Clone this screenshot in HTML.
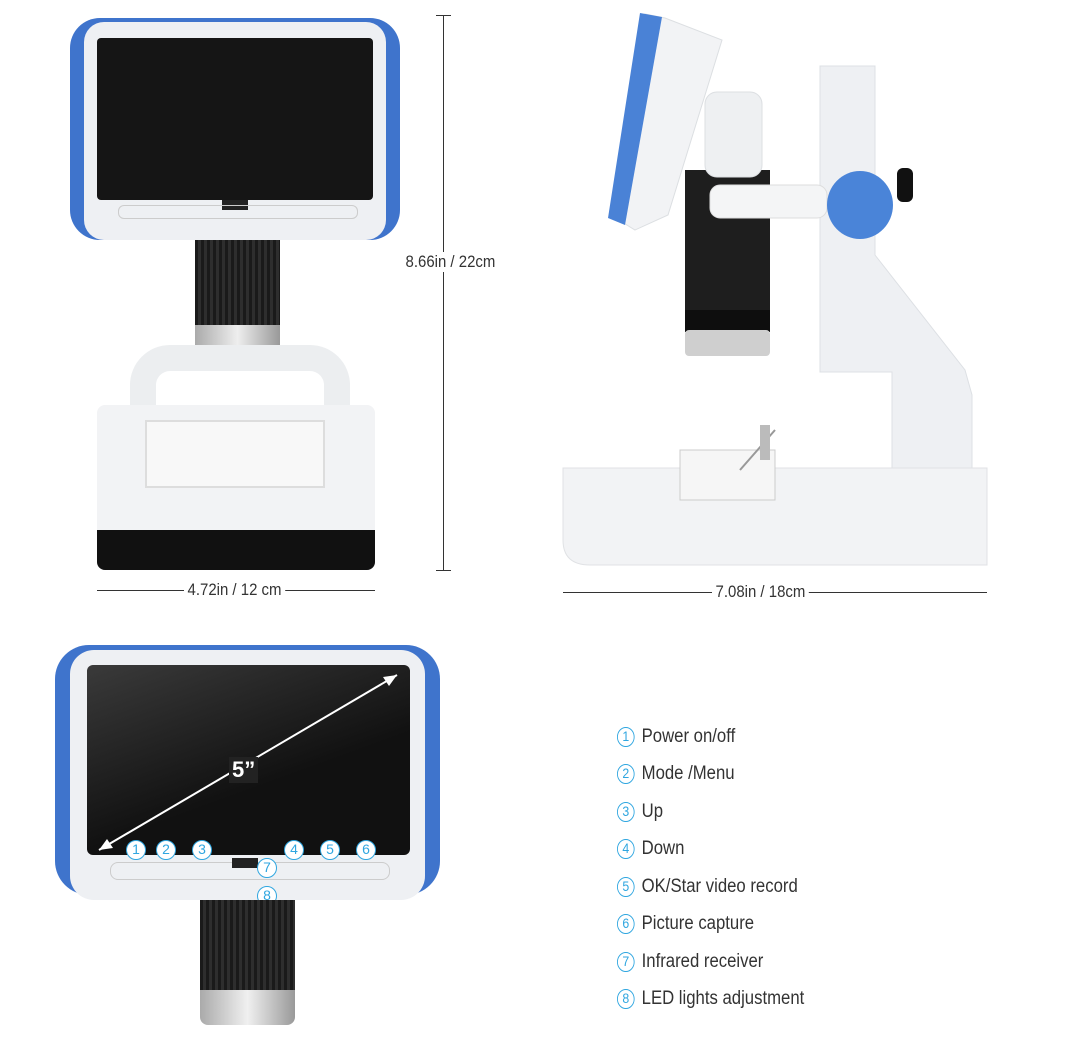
<!DOCTYPE html>
<html><head><meta charset="utf-8"><style>
*{margin:0;padding:0;box-sizing:border-box}
body{width:1080px;height:1063px;background:#fff;position:relative;overflow:hidden;font-family:"Liberation Sans",sans-serif}
.a{position:absolute}
.lbl{position:absolute;font-size:17px;color:#333;background:#fff;padding:0 4px;transform:scaleX(0.88);transform-origin:left}
.leg{position:absolute;left:617px;font-size:19px;color:#333;transform:scaleX(0.88);transform-origin:left;white-space:nowrap}
.leg b{display:inline-block;width:20px;height:20px;border:1.5px solid #2fa6e0;border-radius:50%;color:#2fa6e0;font-weight:normal;font-size:14px;text-align:center;line-height:17px;margin-right:8px;vertical-align:1px}
.n{position:absolute;width:20px;height:20px;border:1.5px solid #2fa6e0;border-radius:50%;color:#2fa6e0;font-size:14px;text-align:center;line-height:17px;background:#fff}
</style></head><body>

<!-- FRONT VIEW -->
<div class="a" style="left:70px;top:18px;width:330px;height:222px;background:#3f74cc;border-radius:30px"></div>
<div class="a" style="left:84px;top:22px;width:302px;height:218px;background:#eef0f3;border-radius:20px"></div>
<div class="a" style="left:97px;top:38px;width:276px;height:162px;background:#151515;border-radius:4px"></div>
<div class="a" style="left:222px;top:200px;width:26px;height:10px;background:#222"></div>
<div class="a" style="left:118px;top:205px;width:240px;height:14px;border:1px solid #ccc;border-radius:6px"></div>
<div class="a" style="left:195px;top:240px;width:85px;height:95px;background:repeating-linear-gradient(90deg,#1a1a1a 0 3px,#2e2e2e 3px 6px)"></div>
<div class="a" style="left:195px;top:325px;width:85px;height:30px;background:linear-gradient(90deg,#aaa,#eee,#999);border-radius:0 0 8px 8px"></div>
<div class="a" style="left:130px;top:345px;width:220px;height:85px;border:26px solid #eceef0;border-bottom:none;border-radius:40px 40px 0 0"></div>
<div class="a" style="left:97px;top:405px;width:278px;height:165px;background:#f2f3f5;border-radius:8px"></div>
<div class="a" style="left:145px;top:420px;width:180px;height:68px;border:2px solid #ddd;background:#f8f8f8"></div>
<div class="a" style="left:97px;top:530px;width:278px;height:40px;background:#111;border-radius:0 0 8px 8px"></div>

<!-- dimensions -->
<div class="a" style="left:443px;top:15px;width:1px;height:556px;background:#333"></div>
<div class="a" style="left:436px;top:15px;width:15px;height:1px;background:#333"></div>
<div class="a" style="left:436px;top:570px;width:15px;height:1px;background:#333"></div>
<div class="lbl" style="left:402px;top:252px">8.66in / 22cm</div>
<div class="a" style="left:97px;top:590px;width:278px;height:1px;background:#333"></div>
<div class="lbl" style="left:184px;top:580px">4.72in / 12 cm</div>
<div class="a" style="left:563px;top:592px;width:424px;height:1px;background:#333"></div>
<div class="lbl" style="left:712px;top:582px">7.08in / 18cm</div>

<!-- SIDE VIEW -->
<svg class="a" style="left:0;top:0" width="1080" height="600">
<polygon points="820,66 875,66 875,255 965,370 972,395 972,520 892,520 892,372 820,372" fill="#eef0f3" stroke="#dde0e4"/>
<path d="M563 468 H987 V565 H590 Q563 565 563 540 Z" fill="#f2f3f5" stroke="#e0e2e5"/>
<rect x="680" y="450" width="95" height="50" fill="#f6f6f6" stroke="#ccc"/>
<line x1="740" y1="470" x2="775" y2="430" stroke="#999" stroke-width="2"/>
<rect x="760" y="425" width="10" height="35" fill="#bbb"/>
<rect x="685" y="170" width="85" height="140" fill="#1e1e1e"/>
<rect x="685" y="310" width="85" height="22" fill="#0e0e0e"/>
<rect x="685" y="330" width="85" height="26" rx="4" fill="#cfcfcf"/>
<rect x="710" y="185" width="117" height="33" rx="10" fill="#f4f5f6" stroke="#ddd"/>
<ellipse cx="860" cy="205" rx="33" ry="34" fill="#4a84d8"/>
<rect x="897" y="168" width="16" height="34" rx="6" fill="#111"/>
<rect x="705" y="92" width="57" height="85" rx="12" fill="#eef0f2" stroke="#dcdfe2"/>
<polygon points="645,14 665,18 722,40 668,215 635,230 622,222" fill="#f2f3f5" stroke="#dcdfe2"/>
<polygon points="640,13 662,17 625,225 608,218" fill="#4a82d6"/>
</svg>

<!-- BOTTOM SCREEN -->
<div class="a" style="left:55px;top:645px;width:385px;height:250px;background:#3f74cc;border-radius:34px"></div>
<div class="a" style="left:70px;top:650px;width:355px;height:250px;background:#eef0f3;border-radius:24px"></div>
<div class="a" style="left:87px;top:665px;width:323px;height:190px;background:linear-gradient(160deg,#3a3a3a,#111 60%);border-radius:6px"></div>
<svg class="a" style="left:87px;top:665px" width="323" height="190"><line x1="12" y1="185" x2="310" y2="10" stroke="#fff" stroke-width="2"/><path d="M310 10 l-14 2 l6 9z M12 185 l14 -2 l-6 -9z" fill="#fff"/></svg>
<div class="a" style="left:229px;top:757px;color:#fff;font-size:22px;font-weight:bold;background:#222;padding:0 3px">5”</div>
<div class="a" style="left:110px;top:862px;width:280px;height:18px;border:1px solid #ccc;border-radius:8px"></div>
<div class="a" style="left:232px;top:858px;width:26px;height:10px;background:#222"></div>
<div class="n" style="left:126px;top:840px">1</div>
<div class="n" style="left:156px;top:840px">2</div>
<div class="n" style="left:192px;top:840px">3</div>
<div class="n" style="left:284px;top:840px">4</div>
<div class="n" style="left:320px;top:840px">5</div>
<div class="n" style="left:356px;top:840px">6</div>
<div class="n" style="left:257px;top:858px">7</div>
<div class="n" style="left:257px;top:886px">8</div>
<div class="a" style="left:200px;top:900px;width:95px;height:95px;background:repeating-linear-gradient(90deg,#1a1a1a 0 3px,#2e2e2e 3px 6px)"></div>
<div class="a" style="left:200px;top:990px;width:95px;height:35px;background:linear-gradient(90deg,#aaa,#f0f0f0,#999);border-radius:0 0 8px 8px"></div>

<!-- LEGEND -->
<div class="leg" style="top:726px"><b>1</b>Power on/off</div>
<div class="leg" style="top:763px"><b>2</b>Mode /Menu</div>
<div class="leg" style="top:801px"><b>3</b>Up</div>
<div class="leg" style="top:838px"><b>4</b>Down</div>
<div class="leg" style="top:876px"><b>5</b>OK/Star video record</div>
<div class="leg" style="top:913px"><b>6</b>Picture capture</div>
<div class="leg" style="top:951px"><b>7</b>Infrared receiver</div>
<div class="leg" style="top:988px"><b>8</b>LED lights adjustment</div>
</body></html>
